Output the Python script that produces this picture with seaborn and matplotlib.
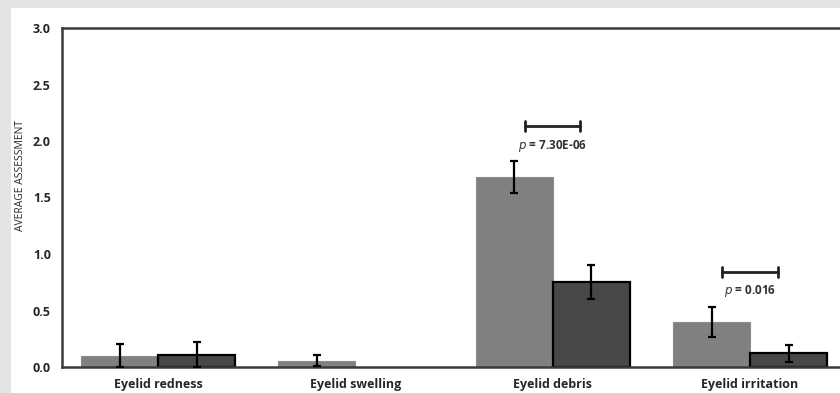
import pandas as pd
import matplotlib.pyplot as plt
import seaborn as sns
from matplotlib.patches import Rectangle

# Values
symptoms = ["Eyelid redness", "Eyelid swelling", "Eyelid debris", "Eyelid irritation"]
group_a = [0.10, 0.055, 1.68, 0.40]
group_a_err = [0.10, 0.05, 0.14, 0.135]
group_b = [0.11, 0.0, 0.75, 0.12]
group_b_err = [0.11, 0.0, 0.15, 0.075]
series = ["Group A", "Group B"]

# p-value brackets: category index, bracket height, label
p_idx = [2, 3]
p_y = [2.13, 0.84]
p_text = ["7.30E-06", "0.016"]

df = pd.DataFrame({
    "Symptom": symptoms * 2,
    "Value": group_a + group_b,
    "Series": [series[0]] * 4 + [series[1]] * 4,
})

sns.set_style("white")
plt.rcParams["font.family"] = ["Open Sans", "DejaVu Sans"]

fig = plt.figure(figsize=(8.4, 3.93), dpi=100)
fig.patch.set_facecolor("#e4e4e4")
fig.patches.append(Rectangle((11 / 840, 0), 1, 1 - 8 / 393, transform=fig.transFigure,
                             facecolor="white", edgecolor="none", zorder=-10))
ax = fig.add_axes([62 / 840, 1 - 367 / 393, 1 - 62 / 840, (367 - 28) / 393])
ax.set_facecolor("white")

sns.barplot(data=df, x="Symptom", y="Value", hue="Series", order=symptoms,
            palette=["#808080", "#484848"], errorbar=None, width=0.78,
            legend=False, ax=ax)

# style bars and add error bars from bar centers
bar_sets = list(ax.containers[:2])
for i, cont in enumerate(bar_sets):
    errs = group_a_err if i == 0 else group_b_err
    vals = group_a if i == 0 else group_b
    for bar, v, e in zip(cont, vals, errs):
        if v == 0:
            bar.set_linewidth(0)
        elif i == 1:
            bar.set_edgecolor("black")
            bar.set_linewidth(1.6)
        else:
            bar.set_edgecolor("#8c8c8c")
            bar.set_linewidth(0.8)
        if e > 0:
            cx = bar.get_x() + bar.get_width() / 2
            ax.errorbar(cx, v, yerr=e, color="black", lw=1.6, capsize=3,
                        capthick=1.6, zorder=5)

# significance brackets
for k, y, t in zip(p_idx, p_y, p_text):
    ax.plot([k - 0.14, k + 0.14], [y, y], color="#222222", lw=2)
    ax.plot([k - 0.14, k - 0.14], [y - 0.045, y + 0.045], color="#222222", lw=2)
    ax.plot([k + 0.14, k + 0.14], [y - 0.045, y + 0.045], color="#222222", lw=2)
    ax.text(k, y - 0.1, "$\\bf{\\it{p}}$ = " + t, ha="center", va="top",
            fontsize=8.5, fontweight="bold", color="#333333")

ax.set_xlim(-0.487, 3.456)
ax.set_ylim(0, 3.0)
ax.set_yticks([0, 0.5, 1.0, 1.5, 2.0, 2.5, 3.0])
ax.set_yticklabels([f"{v:.1f}" for v in ax.get_yticks()], fontweight="bold", fontsize=9)
ax.set_xticks(range(4))
ax.set_xticklabels(symptoms, fontweight="bold", fontsize=9)
ax.tick_params(axis="y", direction="out", length=5, width=1.2, color="#333333", pad=3)
ax.tick_params(axis="x", length=0, pad=8)
ax.set_xlabel("")
ax.set_ylabel("AVERAGE ASSESSMENT", fontsize=7.5)
ax.yaxis.set_label_coords(-0.046, 0.566)

for side in ["left", "bottom", "top"]:
    ax.spines[side].set_color("#3a3a3a")
    ax.spines[side].set_linewidth(1.8)
ax.spines["right"].set_visible(False)

fig.savefig("out.png", dpi=100, facecolor=fig.get_facecolor())
